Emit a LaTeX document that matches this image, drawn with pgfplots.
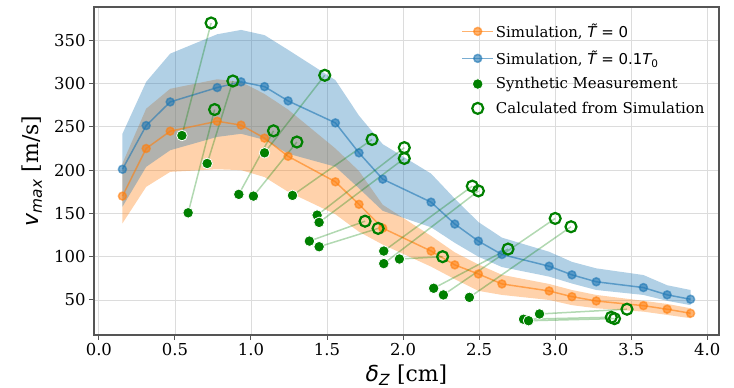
\documentclass[border=0pt]{standalone}
\usepackage{fontspec}
\setmainfont{DejaVu Serif}
\newfontfamily\dvs{DejaVu Sans}
\usepackage{pgfplots}
\usepackage{pgfplotstable}
\pgfplotsset{compat=1.18}
\usepgfplotslibrary{fillbetween}
\definecolor{tabblue}{HTML}{1F77B4}
\definecolor{taborange}{HTML}{FF7F0E}
\definecolor{mplgreen}{HTML}{008000}
\definecolor{gridc}{HTML}{DCDCDC}
\definecolor{spine}{HTML}{555555}
\newcommand{\tT}{{\dvs\itshape\setbox0\hbox{T}\rlap{\hbox to\wd0{\hss\kern0.16em\raisebox{0.16em}{\char"02DC}\hss}}T}}

\pgfplotstableread{
x     ol    oc    ou    bl    bc    bu
0.155 138.5 170   207.7 157.7 201   242
0.311 180.7 225   271   203.8 251.5 302
0.469 198   245   294   223   278.8 334.6
0.778 201   256.5 305   238.4 295.4 357
0.935 200   252   302   242   302   362
1.089 192   237   288   235   296.5 356
1.244 175   216   270   219   280   339
1.555 149   186.5 225   204   254.6 304
1.710 128.8 160.5 199   179   220   263
1.866 114   133   160   153   189.6 230
2.184 88.5  106.5 124   134   163   196
2.340 74    90.5  105   116   137.7 167
2.495 60.5  80    91    100   118   140
2.650 55.8  68.5  79    88    102.5 122
2.960 50    60.4  68.5  77    89    105.7
3.110 44    53.8  61.5  69    79    94
3.270 40.4  48.8  55.8  61.5  71    86.5
3.580 36.5  43.4  49    55.8  64.3  78.8
3.736 32.7  39.3  45.4  49    55.9  67
3.890 28.9  34.6  40.4  44    50.8  61.5
}\simdata

\pgfplotstableread{
mx    my    cx    cy
0.546 240   0.738 370
0.587 150.7 0.761 270
0.712 207.7 0.881 303
0.920 172   1.148 245.4
1.016 170   1.302 232.5
1.089 220   1.485 309.6
1.273 170.8 1.796 235.4
1.435 148   2.008 226
1.448 139.6 2.008 213.5
1.384 118   1.750 141
1.448 111.5 1.836 132.7
1.873 106.5 2.455 181.5
1.873 92    2.495 176
1.976 97.3  2.260 100
2.201 63.5  2.690 108.8
2.265 55.8  3.000 144.2
2.436 53    3.104 134.6
2.792 27.7  3.369 30
2.825 26    3.390 28.4
2.897 33.8  3.472 39.3
}\measdata

\begin{document}
\begin{tikzpicture}
\begin{axis}[
  scale only axis, width=625bp, height=328bp,
  xmin=-0.032, xmax=4.077, ymin=9.5, ymax=388.5,
  xtick={0,0.5,1,1.5,2,2.5,3,3.5,4},
  ytick={50,100,150,200,250,300,350},
  x tick label style={/pgf/number format/.cd, fixed, fixed zerofill, precision=1, assume math mode=true},
  y tick label style={/pgf/number format/.cd, assume math mode=true},
  tick label style={font=\fontsize{16.5}{19}\selectfont},
  xtick pos=bottom, ytick pos=left,
  grid=major, major grid style={gridc, line width=0.8bp},
  axis line style={spine, line width=1.2bp},
  tick style={spine, line width=1bp},
  tick align=outside, major tick length=5bp,
  xlabel={{\dvs\itshape δ}\textsubscript{\dvs\itshape Z} [cm]},
  ylabel={{\dvs\itshape v}\textsubscript{\dvs\itshape max} [m/s]},
  every axis y label/.style={at={(axis description cs:-0.099,0.5)}, rotate=90, anchor=center, font=\fontsize{22}{26}\selectfont},
  every axis x label/.style={at={(axis description cs:0.5,-0.122)}, anchor=center, font=\fontsize{22}{26}\selectfont},
  legend style={draw=none, fill=none, font=\fontsize{15}{18}\selectfont,
    at={(axis description cs:0.985,0.962)}, anchor=north east,
    row sep=7.5bp},
  legend cell align=left,
  legend image code/.code={\draw[mark repeat=2,mark phase=2,#1] plot coordinates {(0bp,0bp) (15.5bp,0bp) (31bp,0bp)};},
]
% bands
\addplot[name path=ou, draw=none, forget plot] table[x=x,y=ou]{\simdata};
\addplot[name path=ol, draw=none, forget plot] table[x=x,y=ol]{\simdata};
\addplot[taborange, fill opacity=0.35, draw=none, forget plot] fill between[of=ou and ol];
\addplot[name path=bu, draw=none, forget plot] table[x=x,y=bu]{\simdata};
\addplot[name path=bl, draw=none, forget plot] table[x=x,y=bl]{\simdata};
\addplot[tabblue, fill opacity=0.35, draw=none, forget plot] fill between[of=bu and bl];
% lines
\addplot[taborange, opacity=0.6, line width=1.5bp, mark=*, mark size=4bp, mark options={draw=none}] table[x=x,y=oc]{\simdata};
\addlegendentry{Simulation, {\dvs\tT{} = 0}}
\addplot[tabblue, opacity=0.6, line width=1.5bp, mark=*, mark size=4bp, mark options={draw=none}] table[x=x,y=bc]{\simdata};
\addlegendentry{Simulation, {\dvs\tT{} = 0.1{\itshape T}\textsubscript{0}}}
% connectors
\addplot[mplgreen, opacity=0.3, line width=1.5bp, forget plot, no marks, -,
  quiver={u=\thisrow{cx}-\thisrow{mx}, v=\thisrow{cy}-\thisrow{my}}] table[x=mx,y=my]{\measdata};
% markers
\addplot[only marks, mark=*, mark size=5.3bp, mark options={fill=mplgreen, draw=white, line width=0.8bp}] table[x=mx,y=my]{\measdata};
\addlegendentry{Synthetic Measurement}
\addplot[only marks, mark=o, mark size=5.5bp, mark options={draw=mplgreen, line width=2.2bp}] table[x=cx,y=cy]{\measdata};
\addlegendentry{Calculated from Simulation}
\end{axis}
\pgfresetboundingbox
\path ([shift={(-94bp,-53bp)}]current axis.south west) rectangle ([shift={(15bp,7bp)}]current axis.north east);
\end{tikzpicture}
\end{document}
